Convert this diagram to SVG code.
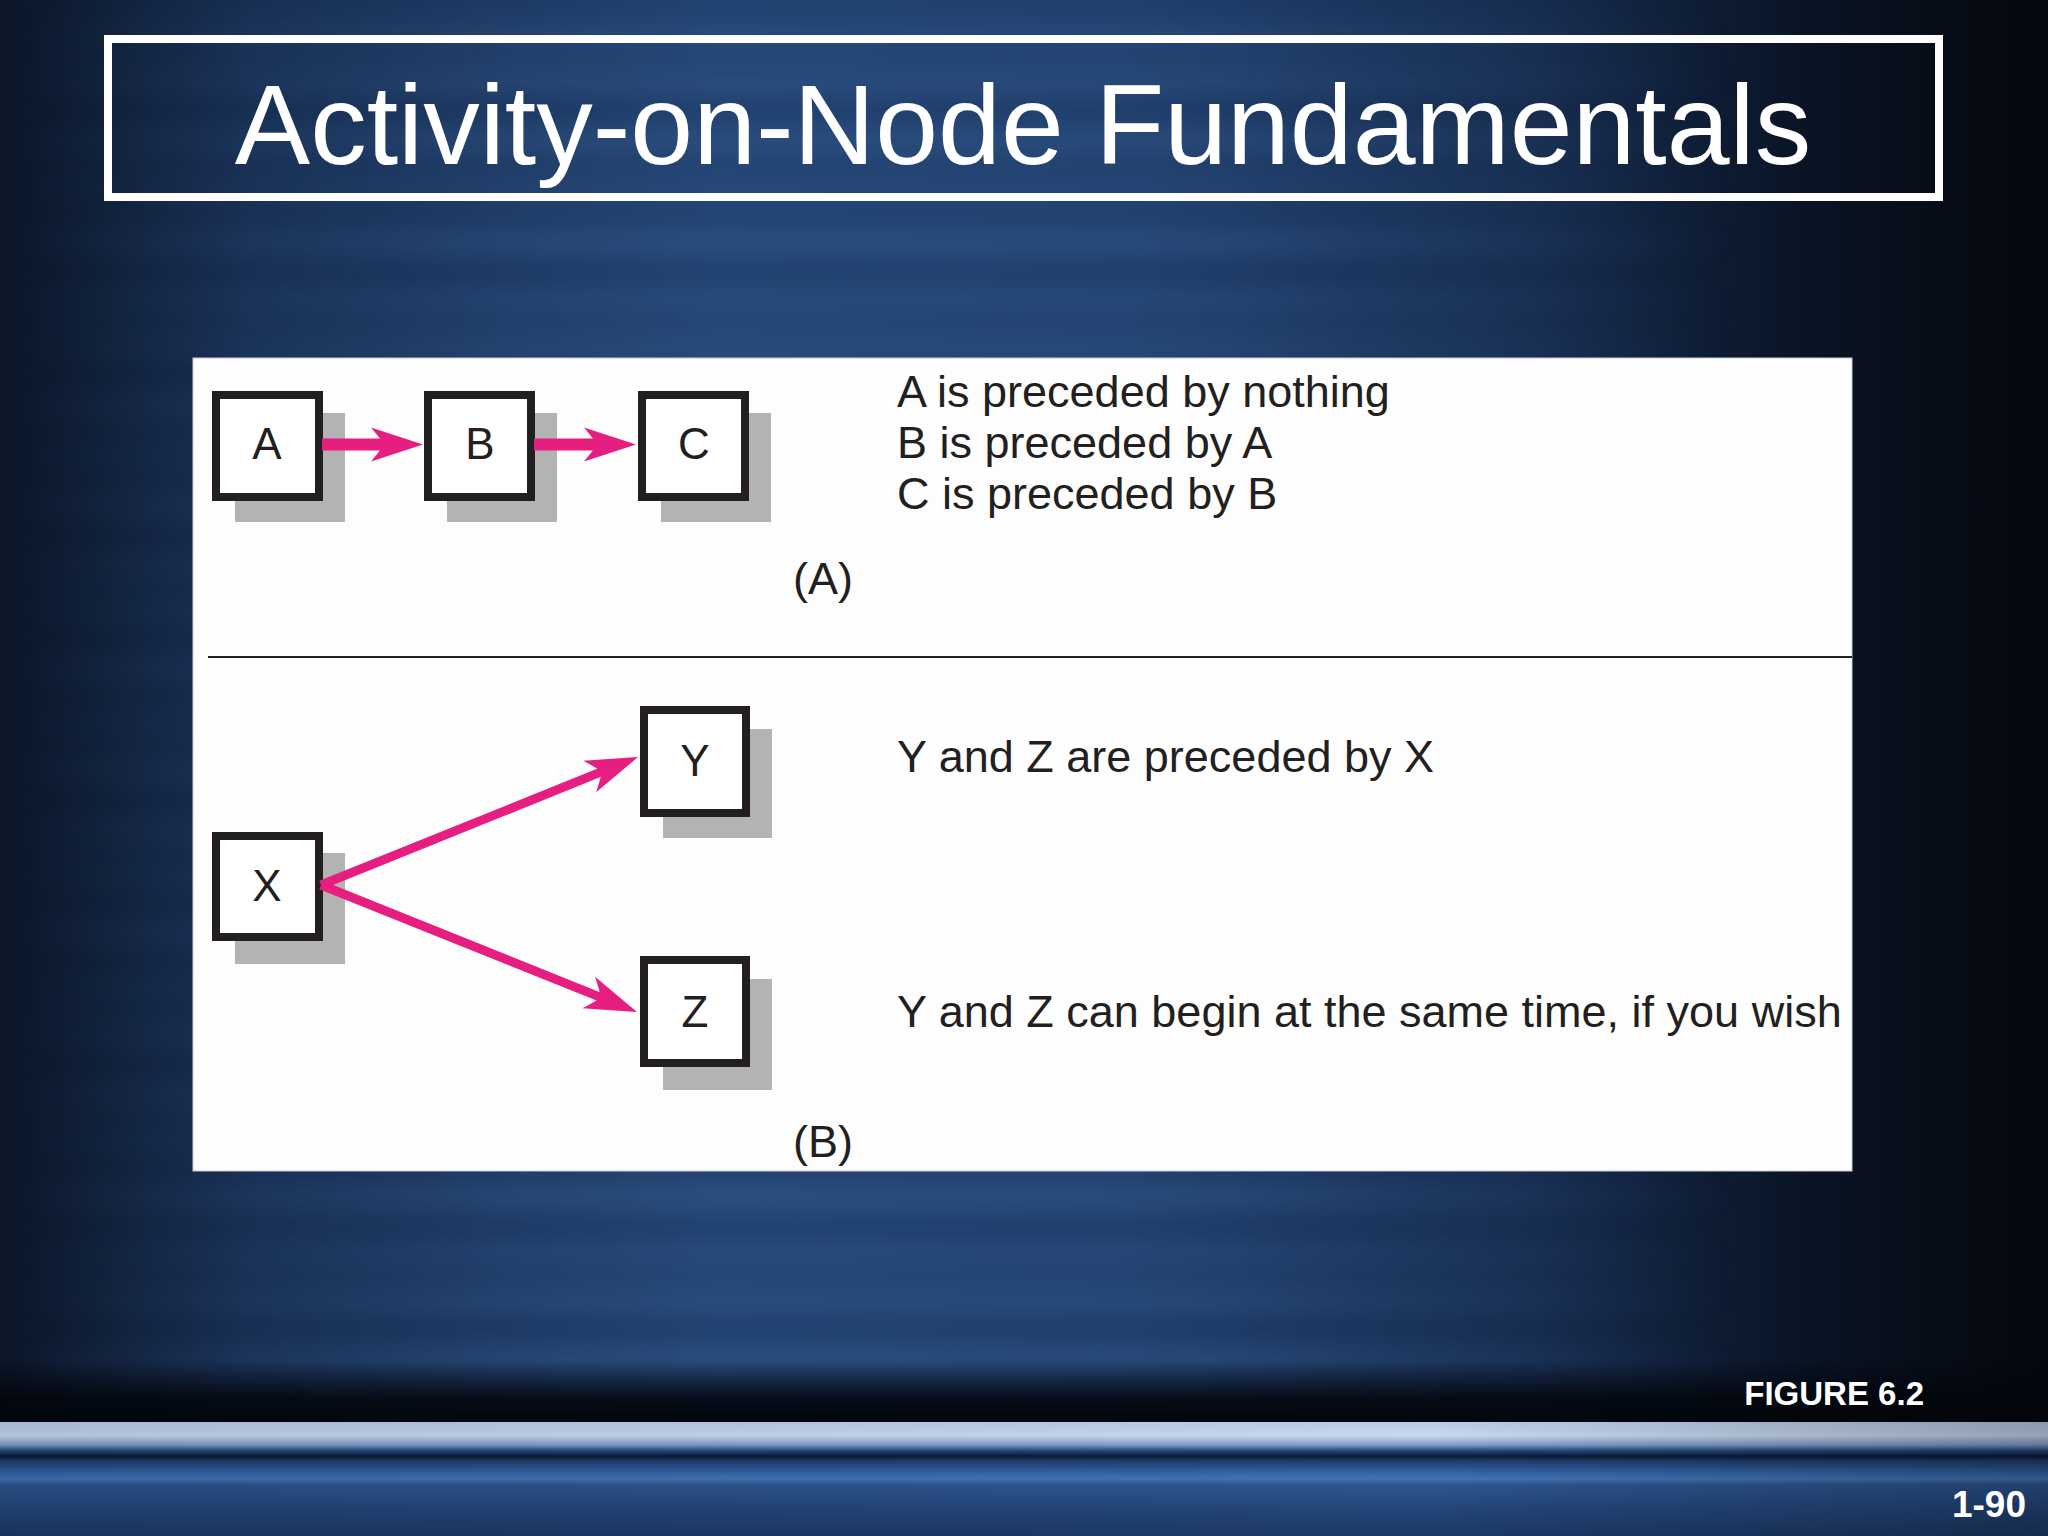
<svg xmlns="http://www.w3.org/2000/svg" width="2048" height="1536" viewBox="0 0 2048 1536">
  <defs>
    <linearGradient id="bgH" x1="0" y1="0" x2="1" y2="0">
      <stop offset="0" stop-color="#0b1628"/>
      <stop offset="0.12" stop-color="#172e52"/>
      <stop offset="0.35" stop-color="#21416f"/>
      <stop offset="0.55" stop-color="#1f3e6b"/>
      <stop offset="0.75" stop-color="#162c4f"/>
      <stop offset="0.88" stop-color="#0a1425"/>
      <stop offset="1" stop-color="#04070d"/>
    </linearGradient>
    <linearGradient id="streaks" gradientUnits="userSpaceOnUse" x1="0" y1="5" x2="0" y2="58" spreadMethod="repeat">
      <stop offset="0" stop-color="#6a9ad8" stop-opacity="0"/>
      <stop offset="0.5" stop-color="#6a9ad8" stop-opacity="0.09"/>
      <stop offset="1" stop-color="#6a9ad8" stop-opacity="0"/>
    </linearGradient>
    <linearGradient id="streaks2" gradientUnits="userSpaceOnUse" x1="0" y1="20" x2="0" y2="107" spreadMethod="repeat">
      <stop offset="0" stop-color="#5a8ac8" stop-opacity="0"/>
      <stop offset="0.5" stop-color="#5a8ac8" stop-opacity="0.08"/>
      <stop offset="1" stop-color="#5a8ac8" stop-opacity="0"/>
    </linearGradient>
    <linearGradient id="fadeH" x1="0" y1="0" x2="1" y2="0">
      <stop offset="0" stop-color="#fff" stop-opacity="0"/>
      <stop offset="0.25" stop-color="#fff" stop-opacity="1"/>
      <stop offset="0.6" stop-color="#fff" stop-opacity="1"/>
      <stop offset="0.85" stop-color="#fff" stop-opacity="0"/>
    </linearGradient>
    <mask id="mH">
      <rect x="0" y="0" width="2048" height="1536" fill="url(#fadeH)"/>
    </mask>
    <filter id="soft" x="-5%" y="-5%" width="110%" height="110%">
      <feGaussianBlur stdDeviation="4 5"/>
    </filter>
    <linearGradient id="bottomDark" x1="0" y1="0" x2="0" y2="1">
      <stop offset="0" stop-color="#02050b" stop-opacity="0"/>
      <stop offset="0.6" stop-color="#02050b" stop-opacity="0.85"/>
      <stop offset="1" stop-color="#02050b" stop-opacity="1"/>
    </linearGradient>
    <linearGradient id="footer" x1="0" y1="0" x2="0" y2="1">
      <stop offset="0" stop-color="#b8cbe6"/>
      <stop offset="0.12" stop-color="#c8d8ee"/>
      <stop offset="0.2" stop-color="#7f9fcc"/>
      <stop offset="0.25" stop-color="#274a80"/>
      <stop offset="0.3" stop-color="#0c1a33"/>
      <stop offset="0.34" stop-color="#1e3c6c"/>
      <stop offset="0.45" stop-color="#3565a6"/>
      <stop offset="0.5" stop-color="#4274b5"/>
      <stop offset="0.55" stop-color="#2c5590"/>
      <stop offset="0.75" stop-color="#24467a"/>
      <stop offset="1" stop-color="#1c3864"/>
    </linearGradient>
    <linearGradient id="footerFade" x1="0" y1="0" x2="1" y2="0">
      <stop offset="0" stop-color="#000" stop-opacity="0.1"/>
      <stop offset="0.7" stop-color="#000" stop-opacity="0"/>
      <stop offset="1" stop-color="#000" stop-opacity="0.25"/>
    </linearGradient>
    <marker id="head" markerUnits="userSpaceOnUse" orient="auto" refX="0" refY="0" markerWidth="60" markerHeight="40" viewBox="-20 -20 60 40" overflow="visible">
      <path d="M39,0 L-13,-17 Q-3,-5 0,0 Q-3,5 -13,17 Z" fill="#e61e7f"/>
    </marker>
    <style>
      .shadow { fill: #b3b3b3; }
      .box { fill: #ffffff; stroke: #231f20; stroke-width: 8; }
      .lbl { font-family: "Liberation Sans", Arial, sans-serif; font-size: 44px; fill: #231f20; text-anchor: middle; }
      .desc { font-family: "Liberation Sans", Arial, sans-serif; font-size: 45px; fill: #231f20; }
      .conn { stroke: #e61e7f; fill: none; marker-end: url(#head); }
    </style>
  </defs>

  <!-- background -->
  <rect x="0" y="0" width="2048" height="1536" fill="url(#bgH)"/>
  <g mask="url(#mH)" filter="url(#soft)">
    <rect x="0" y="0" width="2048" height="1400" fill="url(#streaks)"/>
    <rect x="0" y="0" width="2048" height="1400" fill="url(#streaks2)"/>
  </g>
  <rect x="0" y="1360" width="2048" height="63" fill="url(#bottomDark)"/>
  <rect x="0" y="1422" width="2048" height="114" fill="url(#footer)"/>
  <rect x="0" y="1422" width="2048" height="114" fill="url(#footerFade)"/>

  <!-- title -->
  <g id="title">
    <rect x="108" y="39" width="1831" height="158" fill="none" stroke="#ffffff" stroke-width="8"/>
    <text x="1023" y="164" font-family="'Liberation Sans', Arial, sans-serif" font-size="113" fill="#ffffff" text-anchor="middle">Activity-on-Node Fundamentals</text>
  </g>

  <!-- white panel -->
  <g id="panel">
    <rect x="193" y="358" width="1659" height="813" fill="#fdfdfd" stroke="#c8ccd4" stroke-width="1"/>
    <line x1="208" y1="657" x2="1852" y2="657" stroke="#231f20" stroke-width="2"/>
    <text x="823" y="594" class="desc" font-size="44" text-anchor="middle">(A)</text>
    <text x="823" y="1157" class="desc" font-size="44" text-anchor="middle">(B)</text>
    <text x="897" y="407" class="desc">A is preceded by nothing</text>
    <text x="897" y="458" class="desc">B is preceded by A</text>
    <text x="897" y="509" class="desc">C is preceded by B</text>
    <text x="897" y="772" class="desc">Y and Z are preceded by X</text>
    <text x="897" y="1027" class="desc">Y and Z can begin at the same time, if you wish</text>
  </g>

  <!-- nodes -->
  <g id="node-A">
    <rect class="shadow" x="235" y="413" width="110" height="109"/>
    <rect class="box" x="216" y="395" width="103" height="102"/>
    <text class="lbl" x="267" y="459">A</text>
  </g>
  <g id="node-B">
    <rect class="shadow" x="447" y="413" width="110" height="109"/>
    <rect class="box" x="428" y="395" width="103" height="102"/>
    <text class="lbl" x="480" y="459">B</text>
  </g>
  <g id="node-C">
    <rect class="shadow" x="661" y="413" width="110" height="109"/>
    <rect class="box" x="642" y="395" width="103" height="102"/>
    <text class="lbl" x="694" y="459">C</text>
  </g>
  <g id="node-X">
    <rect class="shadow" x="235" y="853" width="110" height="111"/>
    <rect class="box" x="216" y="836" width="103" height="101"/>
    <text class="lbl" x="267" y="901">X</text>
  </g>
  <g id="node-Y">
    <rect class="shadow" x="663" y="729" width="109" height="109"/>
    <rect class="box" x="644" y="710" width="102" height="103"/>
    <text class="lbl" x="695" y="776">Y</text>
  </g>
  <g id="node-Z">
    <rect class="shadow" x="663" y="979" width="109" height="111"/>
    <rect class="box" x="644" y="960" width="102" height="103"/>
    <text class="lbl" x="695" y="1027">Z</text>
  </g>

  <!-- connectors -->
  <g id="connectors">
    <path class="conn" d="M322,444.5 L384,444.5" stroke-width="12"/>
    <path class="conn" d="M534,444.5 L597,444.5" stroke-width="12"/>
    <path class="conn" d="M321,885 L601.8,771.7" stroke-width="9"/>
    <path class="conn" d="M321,885 L600.8,997.4" stroke-width="9"/>
  </g>

  <!-- footer texts -->
  <text x="1924" y="1405" font-family="'Liberation Sans', Arial, sans-serif" font-size="33" font-weight="bold" fill="#ffffff" text-anchor="end">FIGURE 6.2</text>
  <text x="2026" y="1517" font-family="'Liberation Sans', Arial, sans-serif" font-size="37" font-weight="bold" fill="#ffffff" text-anchor="end">1-90</text>
</svg>
